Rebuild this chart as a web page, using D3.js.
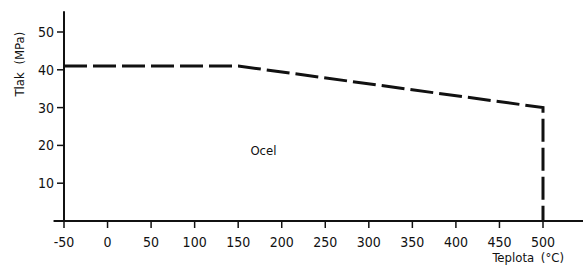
<!DOCTYPE html>
<html>
<head>
<meta charset="utf-8">
<script src="https://cdn.jsdelivr.net/npm/d3@7"></script>
<style>
  body { margin: 0; background: #fff; }
  svg text { font-family: "DejaVu Sans Condensed", "DejaVu Sans", sans-serif; fill: #111; }
</style>
</head>
<body>
<div id="chart"></div>
<script>
// pressure limit of steel vs temperature
const temps = [-50, 150, 500, 500];
const pressures = [41, 41, 30, 0];
const xTicks = [-50, 0, 50, 100, 150, 200, 250, 300, 350, 400, 450, 500];
const yTicks = [10, 20, 30, 40, 50];
const seriesLabel = "Ocel";
const xTitle = "Teplota (°C)";
const yTitle = "Tlak (MPa)";

const width = 583, height = 267;

let svg = d3.select('#chart').append('svg')
  .attr('width', width)
  .attr('height', height);

let x = d3.scaleLinear().domain([-50, 500]).range([64, 543]);
let y = d3.scaleLinear().domain([0, 50]).range([221, 32]);

// axes lines
svg.append('line')
  .attr('x1', x(-62)).attr('x2', width)
  .attr('y1', y(0)).attr('y2', y(0))
  .attr('stroke', '#111').attr('stroke-width', 2);

svg.append('line')
  .attr('x1', x(-50)).attr('x2', x(-50))
  .attr('y1', y(0)).attr('y2', y(55.5))
  .attr('stroke', '#111').attr('stroke-width', 2);

// x ticks
let xt = svg.append('g').selectAll('g')
  .data(xTicks)
  .enter()
  .append('g')
  .attr('transform', d => `translate(${x(d)},${y(0)})`);

xt.append('line')
  .attr('y1', 0).attr('y2', 7)
  .attr('stroke', '#111').attr('stroke-width', 1.5);

xt.append('text')
  .attr('y', 26)
  .attr('text-anchor', 'middle')
  .style('font-size', '14px')
  .text(d => d);

// y ticks
let yt = svg.append('g').selectAll('g')
  .data(yTicks)
  .enter()
  .append('g')
  .attr('transform', d => `translate(${x(-50)},${y(d)})`);

yt.append('line')
  .attr('x1', -7).attr('x2', 0)
  .attr('stroke', '#111').attr('stroke-width', 1.5);

yt.append('text')
  .attr('x', -10)
  .attr('dy', '0.35em')
  .attr('text-anchor', 'end')
  .style('font-size', '14px')
  .text(d => d);

// the dashed limit line
let line = d3.line()
  .x((d, i) => x(temps[i]))
  .y(d => y(d));

svg.append('path')
  .datum(pressures)
  .attr('d', line)
  .attr('fill', 'none')
  .attr('stroke', '#111')
  .attr('stroke-width', 3)
  .attr('stroke-dasharray', '23,6');

// labels
svg.append('text')
  .attr('x', x(179)).attr('y', y(17.5))
  .attr('text-anchor', 'middle')
  .style('font-size', '13px')
  .text(seriesLabel);

svg.append('text')
  .attr('x', 564).attr('y', 262)
  .attr('text-anchor', 'end')
  .style('font-size', '13px')
  .style('word-spacing', '3px')
  .text(xTitle);

svg.append('text')
  .attr('transform', `translate(24,${y(41.5)}) rotate(-90)`)
  .attr('text-anchor', 'middle')
  .style('font-size', '13px')
  .style('word-spacing', '4px')
  .text(yTitle);
</script>
</body>
</html>
